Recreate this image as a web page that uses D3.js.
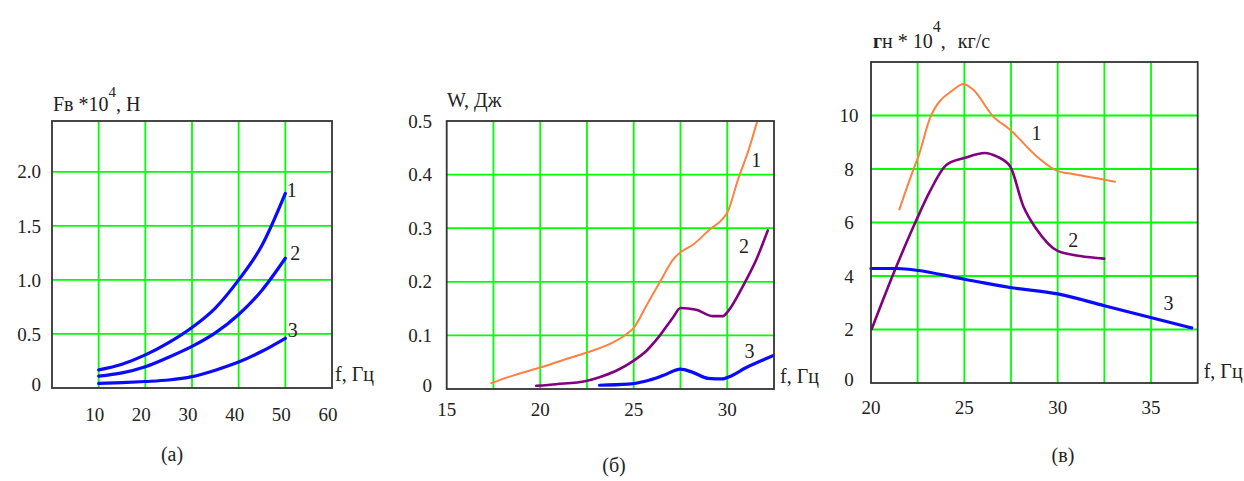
<!DOCTYPE html>
<html>
<head>
<meta charset="utf-8">
<script src="https://cdnjs.cloudflare.com/ajax/libs/d3/7.8.5/d3.min.js"></script>
<style>
  body { margin: 0; background: #fff; }
  text { font-family: "Liberation Serif", "Times New Roman", serif; fill: #222; white-space: pre; }
</style>
</head>
<body>
<svg id="chart" width="1244" height="481"></svg>
<script>
// ---- panel (а): Fв*10^4, Н vs f, Гц ----
const aFreq = [10, 15, 20, 25, 30, 35, 40, 45, 50];
const aForce1 = [0.167, 0.22, 0.306, 0.42, 0.56, 0.74, 1.0, 1.32, 1.80];
const aForce2 = [0.11, 0.14, 0.197, 0.285, 0.385, 0.51, 0.68, 0.905, 1.20];
const aForce3 = [0.043, 0.05, 0.06, 0.074, 0.105, 0.165, 0.24, 0.34, 0.46];
const aXTicks = [10, 20, 30, 40, 50, 60];
const aYTicks = [0, 0.5, 1.0, 1.5, 2.0];

// ---- panel (б): W, Дж vs f, Гц ----
const bFreq1 = [17.38, 18.54, 20.0, 21.39, 22.5, 23.89, 24.6, 25.0, 25.67, 26.47, 27.09, 27.5, 28.16, 29.05, 29.77, 30.0, 30.57, 31.19, 31.59];
const bEnergy1 = [0.011, 0.025, 0.040, 0.056, 0.068, 0.087, 0.102, 0.114, 0.155, 0.204, 0.241, 0.255, 0.269, 0.297, 0.318, 0.329, 0.39, 0.451, 0.498];
const bFreq2 = [19.79, 20.86, 22.46, 23.17, 24.06, 25.0, 25.67, 26.38, 27.09, 27.5, 28.34, 29.23, 29.77, 30.04, 30.84, 31.55, 32.17];
const bEnergy2 = [0.006, 0.009, 0.015, 0.022, 0.034, 0.053, 0.071, 0.099, 0.133, 0.151, 0.148, 0.136, 0.136, 0.145, 0.192, 0.241, 0.296];
const bFreq3 = [23.17, 24.69, 25.67, 26.56, 27.5, 28.16, 28.97, 29.77, 30.04, 31.02, 32.44];
const bEnergy3 = [0.007, 0.009, 0.015, 0.025, 0.037, 0.031, 0.020, 0.019, 0.022, 0.040, 0.062];
const bXTicks = [15, 20, 25, 30];
const bYTicks = [0, 0.1, 0.2, 0.3, 0.4, 0.5];

// ---- panel (в): гн*10^4, кг/с vs f, Гц ----
const cFreq1 = [21.52, 22.27, 22.54, 23.16, 24.41, 24.95, 25.48, 26.55, 27.45, 28.88, 30.0, 30.66, 32.5, 33.07];
const cFlow1 = [6.49, 7.98, 8.47, 9.9, 10.96, 11.18, 10.96, 9.96, 9.47, 8.47, 7.92, 7.83, 7.6, 7.52];
const cFreq2 = [20.04, 21.375, 22.45, 23.16, 24.05, 25.0, 26.1, 26.73, 27.45, 28.16, 28.88, 30.0, 31.2, 32.5];
const cFlow2 = [2.02, 4.38, 6.12, 7.17, 8.16, 8.41, 8.6, 8.47, 8.1, 6.61, 5.74, 4.94, 4.75, 4.65];
const cFreq3 = [20.0, 21.375, 25.0, 27.45, 30.0, 32.5, 37.18];
const cFlow3 = [4.28, 4.28, 3.88, 3.57, 3.33, 2.89, 2.06];
const cXTicks = [20, 25, 30, 35];
const cYTicks = [0, 2, 4, 6, 8, 10];

const BLUE = '#0a0aff', PURPLE = '#800080', ORANGE = '#ff8040', GRID = '#00ff00';

const svg = d3.select('#chart');
svg.append('rect').attr('width', 1244).attr('height', 481).attr('fill', '#fff');

const zip = (xs, ys) => xs.map((x, i) => ({ x, y: ys[i] }));
const fmt1 = d => d === 0 ? '0' : d.toFixed(1);

function drawPanel(p) {
  const x = d3.scaleLinear().domain(p.xDomain).range(p.xRange);
  const y = d3.scaleLinear().domain(p.yDomain).range(p.yRange);
  const g = svg.append('g');

  // green grid
  p.xGrid.forEach(v => {
    g.append('line')
      .attr('x1', x(v)).attr('x2', x(v))
      .attr('y1', p.yRange[0]).attr('y2', p.yRange[1])
      .attr('stroke', GRID).attr('stroke-width', 1.8);
  });
  p.yGrid.forEach(v => {
    g.append('line')
      .attr('x1', p.xRange[0]).attr('x2', p.xRange[1])
      .attr('y1', y(v)).attr('y2', y(v))
      .attr('stroke', GRID).attr('stroke-width', 1.8);
  });

  // curves
  const line = d3.line()
    .x(d => x(d.x))
    .y(d => y(d.y))
    .curve(d3.curveMonotoneX);
  p.series.forEach(s => {
    g.append('path')
      .datum(s.data)
      .attr('d', line)
      .attr('fill', 'none')
      .attr('stroke', s.color)
      .attr('stroke-width', s.width)
      .attr('stroke-linejoin', 'round')
      .attr('stroke-linecap', 'round');
    g.append('text')
      .attr('x', x(s.label[0]))
      .attr('y', y(s.label[1]))
      .attr('dy', '0.35em')
      .attr('text-anchor', 'middle')
      .attr('font-size', '20px')
      .text(s.name);
  });

  // frame
  g.append('rect')
    .attr('x', p.xRange[0]).attr('y', p.yRange[1])
    .attr('width', p.xRange[1] - p.xRange[0])
    .attr('height', p.yRange[0] - p.yRange[1])
    .attr('fill', 'none')
    .attr('stroke', '#333')
    .attr('stroke-width', 1.8);

  // tick labels
  p.xTicks.forEach(v => {
    g.append('text')
      .attr('x', x(v) + p.xTickDx)
      .attr('y', p.xTickY)
      .attr('text-anchor', 'middle')
      .attr('font-size', '19px')
      .text(v);
  });
  p.yTicks.forEach(v => {
    g.append('text')
      .attr('x', p.yTickX)
      .attr('y', Math.min(y(v), p.yRange[0] - 4))
      .attr('dy', '0.35em')
      .attr('text-anchor', p.yTickAnchor)
      .attr('font-size', '19px')
      .text(p.yFormat(v));
  });

  // x axis label
  g.append('text')
    .attr('x', p.xRange[1] + p.fLabelDx)
    .attr('y', p.fLabelY)
    .attr('font-size', '20px')
    .text('f, Гц');

  // y axis title
  p.title(g);

  // caption
  g.append('text')
    .attr('x', p.caption[0]).attr('y', p.caption[1])
    .attr('text-anchor', 'middle')
    .attr('font-size', '20px')
    .text(p.captionText);
}

drawPanel({
  xDomain: [0, 60], xRange: [52, 332],
  yDomain: [0, 2.47], yRange: [388, 121],
  xGrid: [10, 20, 30, 40, 50], yGrid: [0.5, 1.0, 1.5, 2.0],
  xTicks: aXTicks, yTicks: aYTicks, yFormat: fmt1,
  xTickDx: -4, xTickY: 421, yTickX: 41, yTickAnchor: 'end',
  fLabelDx: 3, fLabelY: 381,
  series: [
    { name: '1', data: zip(aFreq, aForce1), color: BLUE, width: 3.2, label: [51.4, 1.83] },
    { name: '2', data: zip(aFreq, aForce2), color: BLUE, width: 3.2, label: [52.1, 1.25] },
    { name: '3', data: zip(aFreq, aForce3), color: BLUE, width: 3.2, label: [51.6, 0.54] }
  ],
  title: g => {
    const t = g.append('text').attr('x', 53).attr('y', 111).attr('font-size', '20px');
    t.append('tspan').text('Fв *10');
    t.append('tspan').attr('dy', -14).attr('font-size', '15px').text('4');
    t.append('tspan').attr('dy', 14).text(', Н');
  },
  caption: [172, 461], captionText: '(а)'
});

drawPanel({
  xDomain: [15, 32.5], xRange: [446.7, 774],
  yDomain: [0, 0.5], yRange: [389, 121],
  xGrid: [17.5, 20, 22.5, 25, 27.5, 30], yGrid: [0.1, 0.2, 0.3, 0.4],
  xTicks: bXTicks, yTicks: bYTicks, yFormat: fmt1,
  xTickDx: 0, xTickY: 416, yTickX: 432, yTickAnchor: 'end',
  fLabelDx: 6, fLabelY: 383,
  series: [
    { name: '1', data: zip(bFreq1, bEnergy1), color: ORANGE, width: 2, label: [31.55, 0.427] },
    { name: '2', data: zip(bFreq2, bEnergy2), color: PURPLE, width: 2.6, label: [30.89, 0.266] },
    { name: '3', data: zip(bFreq3, bEnergy3), color: BLUE, width: 3.2, label: [31.19, 0.070] }
  ],
  title: g => {
    g.append('text').attr('x', 447).attr('y', 107).attr('font-size', '20px').text('W, Дж');
  },
  caption: [614, 472], captionText: '(б)'
});

drawPanel({
  xDomain: [20, 37.5], xRange: [871, 1197.7],
  yDomain: [0, 12], yRange: [383, 62],
  xGrid: [22.5, 25, 27.5, 30, 32.5, 35], yGrid: [2, 4, 6, 8, 10],
  xTicks: cXTicks, yTicks: cYTicks, yFormat: d => String(d),
  xTickDx: 0, xTickY: 414, yTickX: 849, yTickAnchor: 'middle',
  fLabelDx: 6, fLabelY: 378,
  series: [
    { name: '1', data: zip(cFreq1, cFlow1), color: ORANGE, width: 2, label: [28.87, 9.33] },
    { name: '2', data: zip(cFreq2, cFlow2), color: PURPLE, width: 2.6, label: [30.84, 5.35] },
    { name: '3', data: zip(cFreq3, cFlow3), color: BLUE, width: 3.2, label: [35.93, 2.98] }
  ],
  title: g => {
    const t = g.append('text').attr('x', 873).attr('y', 48).attr('font-size', '20px');
    t.append('tspan').attr('font-weight', 'bold').text('г');
    t.append('tspan').text('н * 10');
    t.append('tspan').attr('dy', -16).attr('font-size', '16px').text('4');
    t.append('tspan').attr('dy', 16).text(',').append('tspan');
    t.append('tspan').attr('dx', 12).text('кг/с');
  },
  caption: [1063, 462], captionText: '(в)'
});
</script>
</body>
</html>
